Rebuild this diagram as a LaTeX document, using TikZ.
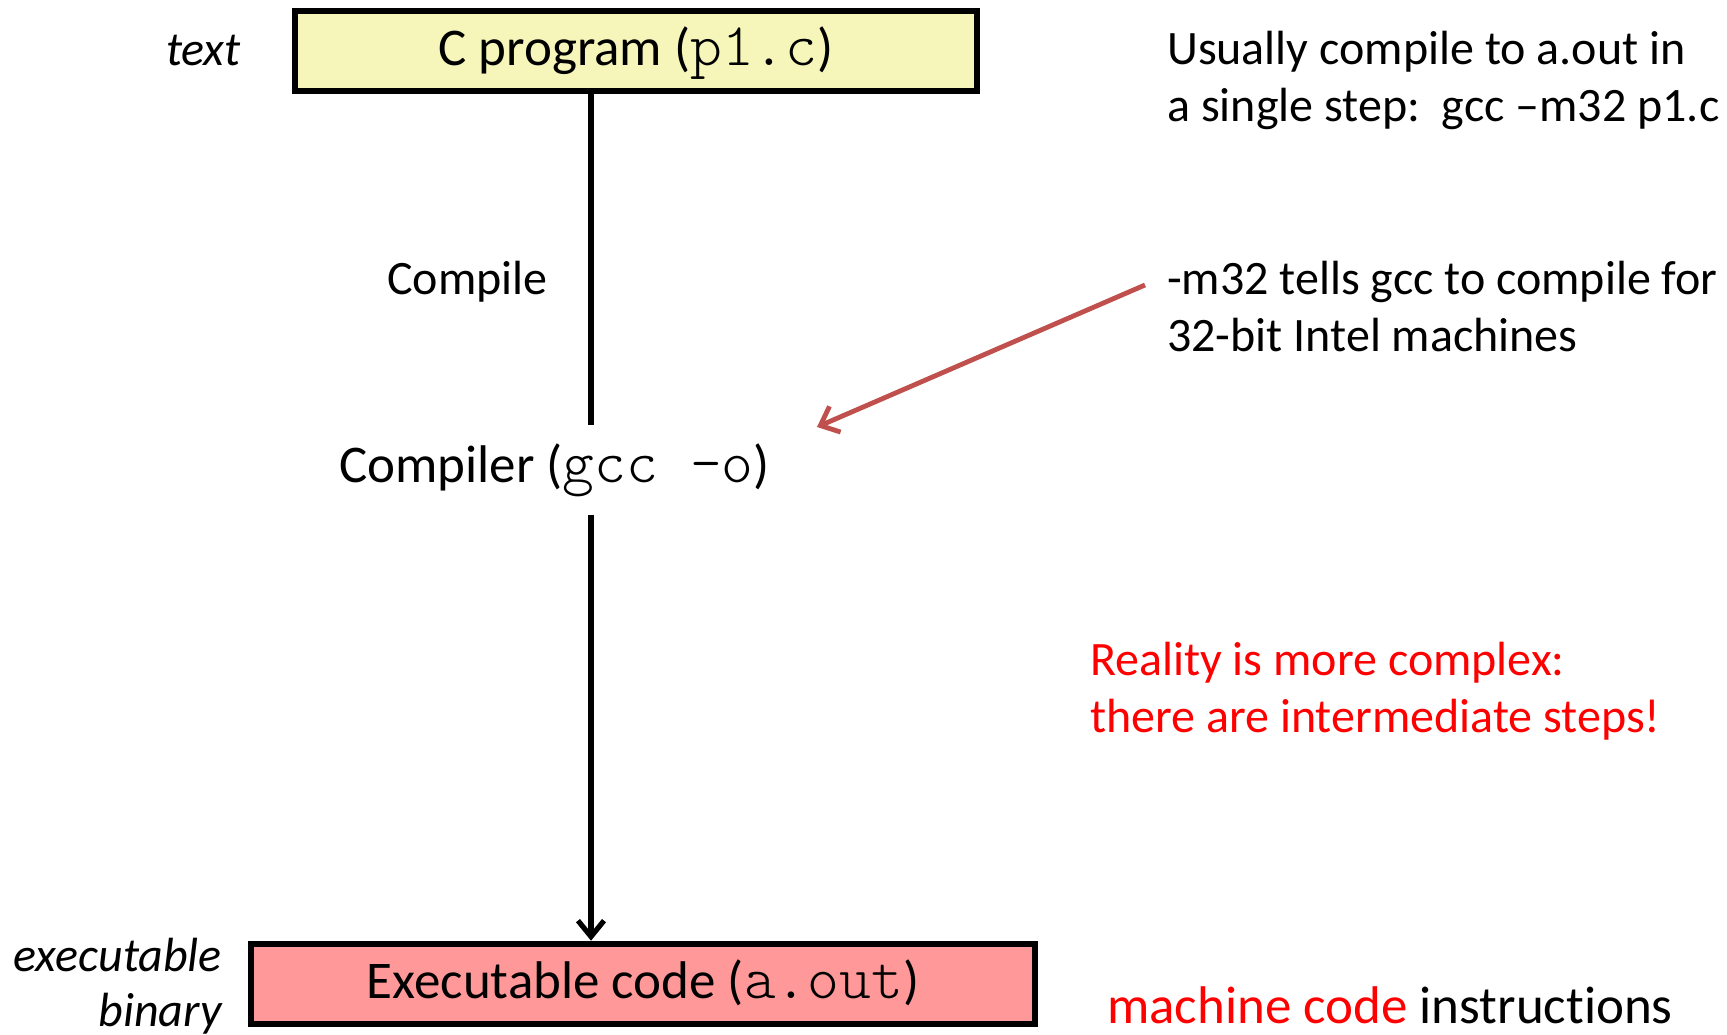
\documentclass[tikz,border=0pt]{standalone}
\usepackage{fontspec}
\setmainfont[Ligatures={TeX,NoCommon}]{Carlito}
\setmonofont[Scale=1.143]{lmmonolt10-regular.otf}
\usetikzlibrary{arrows.meta}
\definecolor{boxyellow}{RGB}{246,246,186}
\definecolor{boxpink}{RGB}{255,153,153}
\definecolor{arrowred}{RGB}{192,80,77}
\definecolor{notered}{RGB}{255,0,0}
\tikzset{
  bigfont/.style={font=\fontsize{53}{60}\selectfont},
  notefont/.style={font=\fontsize{48}{57}\selectfont},
  italfont/.style={font=\fontsize{48}{55}\selectfont\itshape},
  filebox/.style={draw=black, line width=6.5pt, inner sep=0pt, bigfont, text height=40pt, text depth=11pt},
  flowline/.style={line width=5.2pt, draw=black},
  flowtip/.style={-{Straight Barb[length=16pt,width=26pt]}},
  notetext/.style={notefont, anchor=base west, align=left, inner sep=0pt},
}
\begin{document}
\begin{tikzpicture}[x=1pt,y=1pt]
\useasboundingbox[fill=white] (0,0) rectangle (1727,-1035);

% boxes
\node[filebox, fill=boxyellow, minimum width=682pt, minimum height=80pt] (src) at (636,-51) {C program (\texttt{p1.c})};
\node[filebox, fill=boxpink, minimum width=784pt, minimum height=80pt] (exe) at (643,-984) {Executable code (\texttt{a.out})};
\node[bigfont, anchor=base west, inner xsep=0pt, inner ysep=18pt] (comp) at (339,-482) {Compiler (\texttt{gcc -o})};

% flow
\coordinate (lx) at (591,0);
\draw[flowline] (src.south -| lx) -- (comp.north -| lx);
\draw[flowline, flowtip] (comp.south -| lx) -- (exe.north -| lx);

% labels
\node[notefont, anchor=base west, inner sep=0pt] (compile) at (387,-294) {Compile};
\node[italfont, anchor=base east, inner sep=0pt] (txt) at (241,-66) {text};
\node[italfont, anchor=base east, align=right, inner sep=0pt] (exebin) at (222,-1026) {executable\\binary};

% notes (base anchor = last line)
\node[notetext] (usual) at (1167,-122) {Usually compile to a.out in\\a single step:\ \ gcc –m32 p1.c};
\node[notetext] (m32) at (1167,-351) {-m32 tells gcc to compile for\\32-bit Intel machines};
\node[notetext, text=notered] (reality) at (1090,-732) {Reality is more complex:\\there are intermediate steps!};
\node[bigfont, anchor=base west, inner sep=0pt] (mc) at (1107,-1023) {\textcolor{notered}{machine code} instructions};

% red pointer
\coordinate (astart) at (1145,-285);
\coordinate (aend) at (817,-427);
\draw[line width=4.8pt, draw=arrowred, -{Straight Barb[length=16pt,width=28pt]}] (astart) -- (aend);
\end{tikzpicture}
\end{document}
